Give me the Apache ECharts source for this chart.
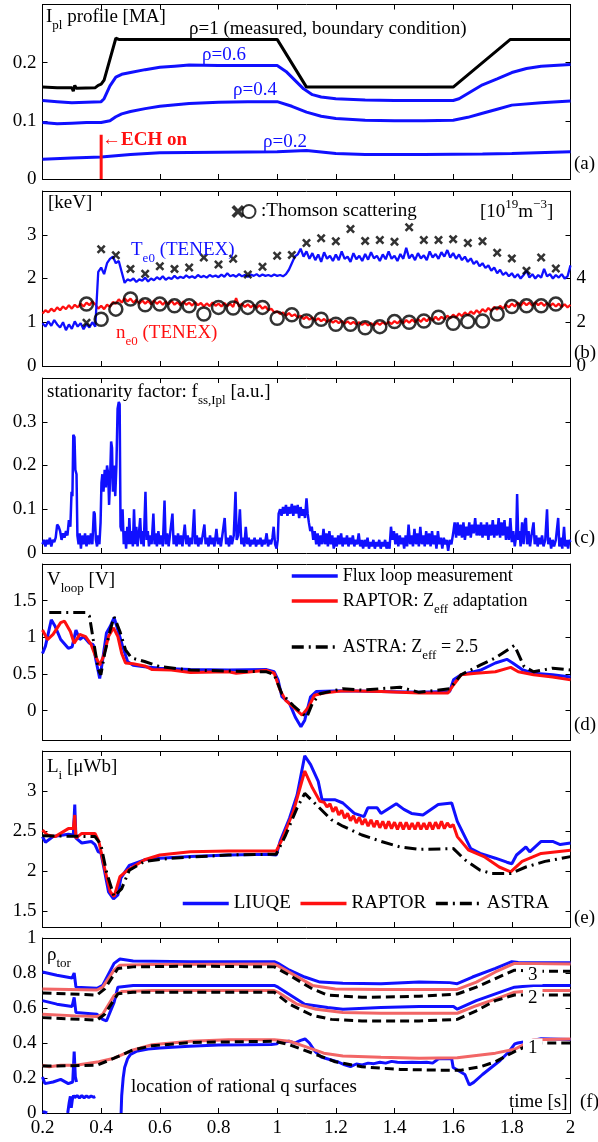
<!DOCTYPE html>
<html><head><meta charset="utf-8">
<script src="https://cdn.jsdelivr.net/npm/echarts/dist/echarts.min.js"></script>
<style>html,body{margin:0;padding:0;background:#fff}#c{width:598px;height:1142px}</style>
</head><body><div id="c"></div>
<script>
// ---------- DATA ----------
const xTicks = [0.2,0.4,0.6,0.8,1,1.2,1.4,1.6,1.8,2];
// (a) plasma current profile [MA]
const iplRho1 = [[0.2,0.158],[0.25,0.157],[0.3,0.157],[0.305,0.151],[0.31,0.161],[0.315,0.156],[0.38,0.157],[0.39,0.161],[0.4,0.163],[0.405,0.16],[0.41,0.17],[0.45,0.242],[0.46,0.24],[1.0,0.24],[1.1,0.158],[1.6,0.158],[1.795,0.24],[2.0,0.24]];
const iplRho06 = [[0.2,0.135],[0.25,0.133],[0.3,0.131],[0.35,0.132],[0.4,0.133],[0.41,0.138],[0.43,0.16],[0.45,0.175],[0.47,0.18],[0.5,0.183],[0.55,0.188],[0.6,0.192],[0.65,0.194],[0.7,0.196],[0.8,0.195],[0.9,0.195],[1.0,0.195],[1.03,0.185],[1.06,0.17],[1.09,0.155],[1.12,0.145],[1.15,0.141],[1.2,0.138],[1.3,0.136],[1.4,0.135],[1.5,0.135],[1.6,0.135],[1.62,0.138],[1.66,0.15],[1.7,0.162],[1.75,0.172],[1.8,0.183],[1.85,0.19],[1.9,0.194],[2.0,0.197]];
const iplRho04 = [[0.2,0.097],[0.25,0.095],[0.3,0.096],[0.35,0.097],[0.4,0.097],[0.43,0.1],[0.45,0.107],[0.47,0.112],[0.5,0.116],[0.55,0.121],[0.6,0.125],[0.7,0.13],[0.8,0.132],[0.9,0.133],[1.0,0.133],[1.05,0.125],[1.1,0.115],[1.15,0.108],[1.2,0.104],[1.3,0.101],[1.4,0.1],[1.5,0.1],[1.6,0.101],[1.65,0.106],[1.7,0.113],[1.75,0.12],[1.8,0.127],[1.9,0.131],[2.0,0.134]];
const iplRho02 = [[0.2,0.034],[0.3,0.036],[0.4,0.038],[0.5,0.042],[0.6,0.045],[0.8,0.046],[1.0,0.047],[1.1,0.049],[1.2,0.044],[1.3,0.042],[1.5,0.042],[1.7,0.043],[1.8,0.044],[2.0,0.047]];
const echOn = [[0.4,0],[0.4,0.076]];
// (b) central temperature [keV] and density [1e19 m^-3], sampled every 10 ms from 0.2 s
const te0 = [0.98,0.90,1.02,0.92,1.05,0.95,0.88,1.00,0.82,0.95,
0.85,1.02,0.90,0.98,0.84,0.96,0.88,1.00,0.90,2.15,
2.25,2.10,2.35,2.45,2.50,2.35,2.40,2.15,1.90,1.98,
1.95,2.00,1.92,1.98,1.95,2.02,1.93,2.00,1.96,2.03,
1.98,2.05,1.97,2.02,1.99,2.06,2.00,2.04,2.01,2.07,
2.02,2.05,2.01,2.08,2.03,2.06,2.02,2.08,2.04,2.07,
2.03,2.09,2.04,2.12,2.05,2.08,2.04,2.10,2.05,2.08,
2.04,2.09,2.06,2.10,2.05,2.09,2.06,2.08,2.05,2.09,
2.06,2.08,2.05,2.10,2.20,2.35,2.50,2.55,2.68,2.50,
2.62,2.45,2.58,2.42,2.55,2.38,2.60,2.45,2.52,2.40,
2.55,2.42,2.62,2.45,2.50,2.38,2.58,2.44,2.52,2.40,
2.56,2.43,2.60,2.46,2.52,2.40,2.55,2.44,2.62,2.45,
2.52,2.40,2.56,2.45,2.70,2.46,2.55,2.42,2.58,2.46,
2.53,2.42,2.62,2.48,2.56,2.45,2.60,2.50,2.65,2.48,
2.58,2.45,2.55,2.42,2.50,2.38,2.46,2.33,2.40,2.28,
2.35,2.24,2.30,2.18,2.25,2.12,2.20,2.08,2.14,2.05,
2.12,2.02,2.10,2.00,2.08,2.18,2.02,2.10,2.00,2.08,
2.02,2.22,2.05,2.10,2.00,2.08,2.02,2.10,2.00,2.05,2.30];
const ne0 = [2.40,2.55,2.45,2.62,2.50,2.68,2.55,2.72,2.60,2.78,
2.62,2.80,2.68,2.85,2.72,2.90,2.78,2.95,2.82,2.62,
2.75,2.60,2.80,2.70,2.92,2.85,3.05,2.90,3.10,2.95,
3.08,2.90,3.02,2.85,3.00,2.85,2.98,2.82,3.00,2.84,
2.96,2.80,2.95,2.82,2.98,2.80,2.92,2.78,2.95,2.80,
2.90,2.76,2.92,2.78,2.88,2.72,2.86,2.74,2.90,2.75,
2.85,2.72,2.88,2.74,2.84,2.70,3.10,2.72,2.85,2.70,
2.82,2.68,2.80,2.66,2.78,2.62,2.72,2.55,2.62,2.45,
2.50,2.38,2.45,2.30,2.42,2.28,2.36,2.22,2.30,2.15,
2.25,2.12,2.22,2.08,2.18,2.05,2.15,2.02,2.12,1.98,
2.08,1.96,2.06,1.94,2.04,1.92,2.02,1.90,2.00,1.88,
1.98,1.86,1.96,1.86,1.98,1.88,2.00,1.90,2.02,1.92,
2.05,1.95,2.08,1.96,2.10,1.98,2.12,2.00,2.15,2.02,
2.18,2.05,2.20,2.08,2.25,2.10,2.25,2.14,2.30,2.18,
2.35,2.22,2.40,2.28,2.45,2.32,2.50,2.38,2.55,2.42,
2.60,2.48,2.65,2.52,2.70,2.58,2.75,2.62,2.80,2.68,
2.85,2.72,2.90,2.75,2.92,2.78,2.90,2.76,2.92,2.78,
2.90,2.75,2.88,2.74,2.86,2.72,2.85,2.70,2.82,2.68,2.80];
const thomT = [0.35,0.4,0.45,0.5,0.55,0.6,0.65,0.7,0.75,0.8,0.85,0.9,0.95,1.0,1.05,1.1,1.15,1.2,1.25,1.3,1.35,1.4,1.45,1.5,1.55,1.6,1.65,1.7,1.75,1.8,1.85,1.9,1.95];
const thomTe = [0.99,2.67,2.53,2.22,2.11,2.28,2.22,2.25,2.48,2.32,2.45,2.09,2.27,2.52,2.54,2.81,2.92,2.85,3.13,2.86,2.88,2.84,3.17,2.88,2.88,2.9,2.81,2.85,2.59,2.46,2.18,2.48,2.23];
const thomNe = [2.83,2.14,2.6,3.06,2.8,2.83,2.75,2.75,2.38,2.68,2.65,2.68,2.68,2.18,2.34,2.06,2.14,1.91,1.91,1.75,1.8,2.03,2.0,2.06,2.23,1.95,2.03,2.06,2.38,2.72,2.75,2.75,2.83];
// (c) stationarity factor
const fss = [[0.200,0.02],[0.205,0.03],[0.210,0.015],[0.215,0.03],[0.220,0.02],[0.225,0.035],[0.230,0.015],[0.235,0.03],[0.240,0.025],[0.245,0.035],[0.250,0.065],[0.255,0.06],[0.260,0.05],[0.265,0.03],[0.270,0.045],[0.275,0.035],[0.280,0.05],[0.285,0.04],[0.290,0.075],[0.295,0.06],[0.299,0.14],[0.302,0.13],[0.305,0.27],[0.309,0.265],[0.312,0.19],[0.316,0.18],[0.319,0.04],[0.323,0.02],[0.327,0.045],[0.331,0.01],[0.335,0.04],[0.340,0.02],[0.345,0.045],[0.350,0.015],[0.355,0.04],[0.360,0.02],[0.365,0.045],[0.370,0.02],[0.375,0.095],[0.378,0.09],[0.382,0.03],[0.386,0.015],[0.390,0.04],[0.394,0.02],[0.398,0.07],[0.401,0.16],[0.404,0.18],[0.408,0.14],[0.412,0.19],[0.416,0.15],[0.420,0.2],[0.424,0.18],[0.427,0.11],[0.430,0.16],[0.434,0.255],[0.437,0.24],[0.440,0.14],[0.444,0.2],[0.448,0.13],[0.452,0.2],[0.456,0.33],[0.460,0.345],[0.463,0.34],[0.466,0.06],[0.470,0.05],[0.473,0.1],[0.477,0.02],[0.481,0.05],[0.485,0.01],[0.489,0.06],[0.493,0.02],[0.496,0.08],[0.500,0.02],[0.504,0.05],[0.508,0.015],[0.512,0.1],[0.516,0.02],[0.520,0.06],[0.524,0.015],[0.528,0.04],[0.533,0.08],[0.537,0.02],[0.541,0.05],[0.545,0.015],[0.551,0.14],[0.555,0.03],[0.559,0.05],[0.563,0.015],[0.567,0.04],[0.572,0.02],[0.578,0.09],[0.582,0.02],[0.586,0.045],[0.590,0.015],[0.595,0.05],[0.600,0.02],[0.605,0.04],[0.610,0.015],[0.616,0.12],[0.620,0.02],[0.625,0.045],[0.630,0.015],[0.636,0.05],[0.643,0.09],[0.647,0.02],[0.652,0.04],[0.657,0.015],[0.662,0.045],[0.667,0.02],[0.672,0.04],[0.677,0.015],[0.685,0.065],[0.690,0.02],[0.695,0.04],[0.700,0.015],[0.705,0.035],[0.710,0.02],[0.717,0.1],[0.721,0.02],[0.726,0.04],[0.731,0.015],[0.736,0.035],[0.741,0.02],[0.746,0.04],[0.752,0.065],[0.756,0.02],[0.761,0.035],[0.766,0.015],[0.771,0.04],[0.776,0.02],[0.781,0.035],[0.786,0.015],[0.793,0.055],[0.798,0.02],[0.803,0.035],[0.808,0.015],[0.813,0.04],[0.821,0.08],[0.826,0.02],[0.831,0.035],[0.836,0.015],[0.841,0.04],[0.846,0.02],[0.852,0.04],[0.858,0.14],[0.862,0.03],[0.867,0.04],[0.873,0.1],[0.878,0.02],[0.883,0.035],[0.888,0.015],[0.893,0.06],[0.898,0.02],[0.903,0.035],[0.908,0.015],[0.913,0.03],[0.918,0.02],[0.923,0.035],[0.928,0.015],[0.933,0.03],[0.938,0.02],[0.943,0.035],[0.948,0.015],[0.953,0.03],[0.958,0.02],[0.964,0.045],[0.969,0.015],[0.974,0.03],[0.979,0.02],[0.984,0.035],[0.988,0.06],[0.993,0.02],[0.998,0.01],[1.002,0.03],[1.005,0.09],[1.010,0.1],[1.015,0.085],[1.020,0.105],[1.025,0.09],[1.030,0.11],[1.035,0.085],[1.040,0.105],[1.045,0.09],[1.050,0.112],[1.055,0.085],[1.060,0.108],[1.065,0.09],[1.070,0.11],[1.075,0.08],[1.080,0.105],[1.085,0.085],[1.090,0.1],[1.095,0.08],[1.100,0.125],[1.104,0.09],[1.108,0.07],[1.113,0.05],[1.118,0.06],[1.123,0.03],[1.128,0.05],[1.133,0.02],[1.138,0.045],[1.143,0.015],[1.148,0.04],[1.153,0.02],[1.158,0.055],[1.163,0.02],[1.168,0.045],[1.173,0.015],[1.178,0.05],[1.183,0.02],[1.188,0.04],[1.193,0.01],[1.198,0.035],[1.203,0.015],[1.208,0.04],[1.213,0.02],[1.218,0.045],[1.223,0.015],[1.228,0.035],[1.233,0.02],[1.238,0.04],[1.243,0.015],[1.248,0.035],[1.253,0.02],[1.258,0.04],[1.263,0.015],[1.268,0.03],[1.273,0.02],[1.278,0.045],[1.283,0.015],[1.288,0.03],[1.293,0.01],[1.298,0.03],[1.303,0.015],[1.308,0.035],[1.313,0.01],[1.318,0.025],[1.323,0.015],[1.328,0.03],[1.333,0.01],[1.338,0.025],[1.343,0.015],[1.348,0.03],[1.353,0.01],[1.358,0.025],[1.363,0.015],[1.368,0.03],[1.373,0.01],[1.378,0.025],[1.383,0.01],[1.388,0.06],[1.393,0.03],[1.398,0.05],[1.403,0.02],[1.408,0.045],[1.413,0.015],[1.418,0.04],[1.423,0.02],[1.428,0.035],[1.433,0.01],[1.438,0.04],[1.443,0.015],[1.448,0.065],[1.453,0.02],[1.458,0.04],[1.463,0.015],[1.468,0.055],[1.473,0.02],[1.478,0.045],[1.483,0.015],[1.488,0.06],[1.493,0.02],[1.498,0.04],[1.503,0.015],[1.508,0.05],[1.513,0.02],[1.518,0.045],[1.523,0.015],[1.528,0.05],[1.533,0.02],[1.538,0.04],[1.543,0.01],[1.548,0.05],[1.553,0.02],[1.558,0.035],[1.563,0.01],[1.568,0.035],[1.573,0.02],[1.578,0.03],[1.583,0.005],[1.588,0.03],[1.594,0.02],[1.600,0.045],[1.605,0.07],[1.610,0.035],[1.615,0.07],[1.620,0.04],[1.625,0.065],[1.630,0.035],[1.635,0.07],[1.640,0.03],[1.645,0.06],[1.650,0.04],[1.655,0.07],[1.660,0.035],[1.665,0.065],[1.670,0.045],[1.675,0.08],[1.680,0.04],[1.685,0.065],[1.690,0.04],[1.695,0.07],[1.700,0.035],[1.705,0.065],[1.710,0.04],[1.715,0.07],[1.720,0.03],[1.725,0.065],[1.730,0.04],[1.735,0.075],[1.740,0.035],[1.745,0.065],[1.750,0.04],[1.755,0.08],[1.760,0.035],[1.765,0.07],[1.770,0.04],[1.775,0.075],[1.780,0.03],[1.785,0.06],[1.790,0.03],[1.795,0.08],[1.800,0.025],[1.805,0.05],[1.810,0.015],[1.815,0.04],[1.818,0.135],[1.822,0.03],[1.826,0.05],[1.830,0.015],[1.835,0.07],[1.840,0.02],[1.845,0.075],[1.848,0.08],[1.852,0.02],[1.857,0.05],[1.862,0.015],[1.867,0.04],[1.874,0.07],[1.878,0.02],[1.883,0.04],[1.888,0.015],[1.893,0.035],[1.898,0.02],[1.903,0.04],[1.908,0.015],[1.914,0.03],[1.920,0.1],[1.924,0.02],[1.929,0.035],[1.934,0.01],[1.939,0.03],[1.944,0.015],[1.950,0.03],[1.958,0.08],[1.962,0.015],[1.967,0.035],[1.972,0.01],[1.978,0.06],[1.982,0.015],[1.987,0.03],[1.992,0.01],[1.996,0.03],[2.000,0.025]];
// (d) loop voltage [V]
const vFlux = [[0.2,0.78],[0.21,0.88],[0.23,1.24],[0.243,1.15],[0.262,0.97],[0.288,0.85],[0.301,0.87],[0.314,1.1],[0.327,0.97],[0.34,1.01],[0.36,0.92],[0.373,0.9],[0.382,0.69],[0.395,0.44],[0.405,0.69],[0.418,1.06],[0.431,1.15],[0.444,1.27],[0.457,1.1],[0.473,0.88],[0.49,0.67],[0.509,0.62],[0.548,0.6],[0.6,0.58],[0.704,0.56],[0.834,0.555],[0.964,0.56],[0.99,0.53],[1.003,0.42],[1.016,0.19],[1.042,0.1],[1.062,-0.09],[1.081,-0.22],[1.094,-0.13],[1.114,0.19],[1.133,0.26],[1.224,0.27],[1.354,0.26],[1.484,0.25],[1.588,0.26],[1.601,0.42],[1.627,0.49],[1.692,0.55],[1.744,0.65],[1.783,0.7],[1.803,0.65],[1.835,0.56],[1.874,0.51],[1.939,0.49],[2.0,0.46]];
const vRaptor = [[0.2,1.1],[0.217,0.97],[0.236,1.04],[0.262,1.2],[0.275,1.22],[0.295,1.08],[0.308,0.92],[0.327,1.04],[0.347,1.01],[0.366,0.9],[0.379,0.76],[0.395,0.62],[0.408,0.74],[0.425,1.01],[0.442,1.13],[0.457,1.01],[0.47,0.78],[0.483,0.65],[0.509,0.64],[0.548,0.61],[0.574,0.56],[0.639,0.555],[0.704,0.52],[0.834,0.53],[0.86,0.51],[0.964,0.55],[0.99,0.51],[1.01,0.28],[1.029,0.14],[1.055,0.05],[1.085,-0.06],[1.107,0.05],[1.127,0.21],[1.159,0.24],[1.224,0.27],[1.354,0.26],[1.484,0.24],[1.582,0.24],[1.601,0.35],[1.627,0.49],[1.679,0.51],[1.744,0.53],[1.796,0.59],[1.822,0.53],[1.874,0.49],[1.939,0.46],[2.0,0.42]];
const vAstra = [[0.223,1.34],[0.347,1.34],[0.36,1.29],[0.373,0.97],[0.39,0.56],[0.399,0.49],[0.412,0.78],[0.431,1.1],[0.444,1.28],[0.464,1.08],[0.483,0.83],[0.503,0.72],[0.548,0.67],[0.6,0.6],[0.704,0.555],[0.834,0.54],[0.964,0.53],[0.99,0.49],[1.016,0.23],[1.055,0.07],[1.101,-0.09],[1.12,0.1],[1.146,0.23],[1.224,0.3],[1.289,0.28],[1.354,0.3],[1.419,0.32],[1.484,0.25],[1.588,0.3],[1.627,0.49],[1.692,0.62],[1.744,0.72],[1.809,0.89],[1.842,0.6],[1.874,0.53],[1.939,0.58],[2.0,0.555]];
// (e) internal inductance
const liLiuqe = [[0.2,2.43],[0.21,2.36],[0.236,2.43],[0.288,2.46],[0.305,2.45],[0.31,2.83],[0.314,2.41],[0.334,2.35],[0.366,2.37],[0.379,2.33],[0.39,2.24],[0.399,2.23],[0.412,1.99],[0.425,1.74],[0.442,1.65],[0.457,1.7],[0.467,1.91],[0.496,2.07],[0.548,2.14],[0.6,2.16],[0.704,2.18],[0.834,2.2],[0.964,2.21],[0.997,2.2],[1.01,2.37],[1.042,2.66],[1.068,2.95],[1.094,3.44],[1.114,3.33],[1.14,3.12],[1.153,2.89],[1.198,2.89],[1.224,2.85],[1.263,2.72],[1.296,2.68],[1.309,2.79],[1.341,2.79],[1.354,2.72],[1.406,2.84],[1.432,2.77],[1.458,2.72],[1.497,2.7],[1.549,2.83],[1.595,2.85],[1.614,2.62],[1.66,2.28],[1.692,2.22],[1.744,2.16],[1.783,2.11],[1.8,2.09],[1.816,2.2],[1.848,2.3],[1.861,2.24],[1.9,2.37],[1.939,2.37],[1.965,2.33],[2.0,2.35]];
const liRaptor = [[0.2,2.51],[0.217,2.45],[0.243,2.43],[0.288,2.53],[0.305,2.53],[0.31,2.7],[0.314,2.41],[0.334,2.47],[0.379,2.47],[0.392,2.37],[0.412,2.03],[0.431,1.74],[0.444,1.68],[0.464,1.93],[0.49,2.01],[0.548,2.14],[0.6,2.2],[0.704,2.24],[0.834,2.25],[0.997,2.25],[1.016,2.39],[1.055,2.74],[1.094,3.25],[1.12,3.04],[1.146,2.87],[1.16,2.86],[1.17,2.80],[1.18,2.84],[1.19,2.74],[1.2,2.8],[1.21,2.7],[1.22,2.76],[1.23,2.66],[1.24,2.72],[1.25,2.63],[1.26,2.69],[1.27,2.6],[1.28,2.67],[1.29,2.58],[1.3,2.65],[1.31,2.56],[1.32,2.64],[1.33,2.55],[1.34,2.63],[1.35,2.54],[1.36,2.62],[1.37,2.53],[1.38,2.62],[1.39,2.53],[1.4,2.61],[1.41,2.52],[1.42,2.61],[1.43,2.52],[1.44,2.61],[1.45,2.52],[1.46,2.6],[1.47,2.52],[1.48,2.61],[1.49,2.52],[1.5,2.6],[1.51,2.52],[1.52,2.61],[1.53,2.52],[1.54,2.61],[1.55,2.53],[1.56,2.62],[1.57,2.53],[1.58,2.6],[1.59,2.55],[1.6,2.58],[1.614,2.43],[1.653,2.26],[1.705,2.18],[1.757,2.05],[1.796,1.99],[1.835,2.12],[1.9,2.22],[2.0,2.26]];
const liAstra = [[0.2,2.44],[0.379,2.43],[0.399,2.33],[0.418,1.99],[0.444,1.68],[0.47,1.78],[0.496,2.01],[0.548,2.12],[0.639,2.16],[0.834,2.2],[0.997,2.21],[1.029,2.45],[1.068,2.79],[1.094,2.97],[1.133,2.83],[1.185,2.64],[1.224,2.56],[1.289,2.45],[1.354,2.37],[1.419,2.3],[1.484,2.27],[1.601,2.28],[1.64,2.14],[1.692,2.01],[1.731,1.97],[1.796,1.97],[1.848,2.05],[1.913,2.12],[2.0,2.18]];
// (f) rational q surface locations (rho_tor)
const q3Liuqe = [[0.2,0.806],[0.249,0.787],[0.301,0.771],[0.308,0.8],[0.314,0.719],[0.386,0.713],[0.405,0.729],[0.444,0.855],[0.464,0.88],[0.509,0.868],[0.704,0.865],[0.99,0.865],[1.003,0.855],[1.042,0.816],[1.094,0.777],[1.146,0.748],[1.224,0.742],[1.354,0.739],[1.484,0.748],[1.588,0.745],[1.614,0.739],[1.666,0.777],[1.744,0.826],[1.8,0.865],[1.822,0.86],[1.874,0.859],[2.0,0.859]];
const q3Raptor = [[0.2,0.709],[0.386,0.703],[0.405,0.719],[0.444,0.816],[0.464,0.845],[0.574,0.849],[0.99,0.851],[1.003,0.841],[1.12,0.729],[1.198,0.709],[1.354,0.706],[1.614,0.706],[1.679,0.748],[1.744,0.806],[1.809,0.855],[2.0,0.851]];
const q3Astra = [[0.2,0.686],[0.386,0.674],[0.412,0.709],[0.457,0.826],[0.509,0.835],[0.704,0.839],[0.99,0.835],[1.042,0.787],[1.12,0.709],[1.172,0.674],[1.289,0.661],[1.484,0.667],[1.614,0.68],[1.679,0.719],[1.744,0.768],[1.809,0.816],[1.874,0.81],[2.0,0.81]];
const q2Liuqe = [[0.2,0.642],[0.249,0.622],[0.301,0.609],[0.308,0.661],[0.314,0.574],[0.386,0.564],[0.405,0.535],[0.418,0.526],[0.444,0.632],[0.457,0.719],[0.509,0.729],[0.99,0.729],[1.003,0.719],[1.094,0.622],[1.172,0.603],[1.224,0.593],[1.354,0.603],[1.484,0.609],[1.601,0.609],[1.614,0.593],[1.679,0.642],[1.744,0.681],[1.809,0.719],[1.874,0.729],[2.0,0.729]];
const q2Raptor = [[0.2,0.564],[0.314,0.555],[0.386,0.551],[0.405,0.564],[0.444,0.671],[0.47,0.694],[0.574,0.7],[0.99,0.7],[1.003,0.69],[1.068,0.622],[1.133,0.593],[1.224,0.574],[1.354,0.57],[1.614,0.57],[1.679,0.613],[1.744,0.651],[1.809,0.69],[1.874,0.7],[2.0,0.7]];
const q2Astra = [[0.2,0.545],[0.386,0.531],[0.412,0.564],[0.457,0.681],[0.509,0.69],[0.704,0.69],[0.99,0.69],[1.042,0.622],[1.12,0.558],[1.185,0.535],[1.289,0.526],[1.484,0.526],[1.614,0.535],[1.679,0.584],[1.744,0.642],[1.809,0.674],[1.874,0.674],[2.0,0.674]];
const q1LiuqeA = [[0.2,0.206],[0.208,0.168],[0.236,0.177],[0.262,0.192],[0.288,0.168],[0.303,0.177],[0.308,0.351],[0.312,0.206],[0.316,0.177]];
const q1LiuqeB = [[0.2,0.008],[0.21,0.004],[0.216,0.0]];
const q1LiuqeC = [[0.286,0.0],[0.291,0.06],[0.295,0.095],[0.298,0.03],[0.302,0.08],[0.306,0.1],[0.31,0.088],[0.318,0.1],[0.326,0.086],[0.334,0.099],[0.342,0.087],[0.35,0.098],[0.358,0.088],[0.366,0.097],[0.374,0.09],[0.38,0.094]];
const q1LiuqeD = [[0.468,0.0],[0.47,0.1],[0.475,0.2],[0.48,0.26],[0.49,0.31],[0.5,0.335],[0.52,0.352],[0.56,0.365],[0.6,0.372],[0.7,0.382],[0.8,0.388],[0.9,0.39],[0.98,0.392],[1.0,0.395],[1.005,0.41],[1.02,0.405],[1.04,0.41],[1.06,0.4],[1.08,0.415],[1.095,0.423],[1.11,0.4],[1.13,0.35],[1.15,0.32],[1.17,0.31],[1.19,0.3],[1.21,0.29],[1.23,0.275],[1.25,0.265],[1.27,0.28],[1.29,0.275],[1.31,0.285],[1.33,0.282],[1.35,0.29],[1.37,0.285],[1.39,0.295],[1.41,0.29],[1.43,0.288],[1.46,0.29],[1.49,0.288],[1.51,0.29],[1.53,0.285],[1.55,0.31],[1.58,0.31],[1.595,0.31],[1.6,0.26],[1.62,0.24],[1.64,0.22],[1.655,0.16],[1.67,0.175],[1.7,0.22],[1.73,0.26],[1.76,0.3],[1.79,0.35],[1.81,0.395],[1.82,0.4],[1.87,0.415],[1.9,0.425],[2.0,0.42]];
const q1Raptor = [[0.2,0.273],[0.223,0.264],[0.262,0.273],[0.314,0.273],[0.392,0.293],[0.444,0.313],[0.47,0.332],[0.509,0.361],[0.574,0.39],[0.704,0.41],[0.834,0.419],[0.99,0.419],[1.042,0.41],[1.094,0.381],[1.159,0.342],[1.224,0.326],[1.354,0.318],[1.484,0.313],[1.614,0.316],[1.744,0.342],[1.809,0.364],[1.874,0.419],[2.0,0.423]];
const q1Astra = [[0.2,0.268],[0.386,0.273],[0.444,0.313],[0.509,0.361],[0.574,0.384],[0.704,0.403],[0.99,0.41],[1.042,0.39],[1.12,0.342],[1.198,0.293],[1.289,0.264],[1.419,0.249],[1.549,0.245],[1.627,0.245],[1.692,0.264],[1.744,0.293],[1.809,0.351],[1.874,0.4],[2.0,0.4]];

// ---------- CHART ----------
const FF = 'Liberation Serif';
const BLUE = '#1010ff', RED = '#ff1010', PINK = '#f26666';
const tb = te0.map((_, i) => Math.round((0.2 + i * 0.01) * 100) / 100);
const grids = [
  {top: 4.5, height: 174.5}, {top: 191, height: 175}, {top: 378, height: 175},
  {top: 564, height: 176}, {top: 751, height: 176}, {top: 938, height: 175}
].map(g => Object.assign({left: 42.5, width: 528}, g));

function fmt(v) { const r = Math.round(v * 100) / 100; return String(Math.abs(r) < 1e-9 ? 0 : r); }
function xAx(gi, pos, labels) {
  return {type: 'value', gridIndex: gi, position: pos, min: 0.2, max: 2, interval: 0.2,
    axisLine: {show: true, onZero: false, lineStyle: {color: '#000', width: 1}},
    axisTick: {show: true, inside: true, length: 5, lineStyle: {color: '#000'}},
    axisLabel: {show: labels, color: '#000', fontFamily: FF, fontSize: 19, margin: 6,
      formatter: v => xTicks.some(t => Math.abs(t - v) < 1e-6) ? fmt(v) : ''},
    splitLine: {show: false}};
}
function yAx(gi, pos, cfg, labelFn) {
  const a = {type: 'value', gridIndex: gi, position: pos, min: cfg.min, max: cfg.max,
    axisLine: {show: true, onZero: false, lineStyle: {color: '#000', width: 1}},
    axisTick: {show: true, inside: true, length: 5, lineStyle: {color: '#000'}},
    axisLabel: {show: !!labelFn, color: '#000', fontFamily: FF, fontSize: 19, margin: 6,
      formatter: v => labelFn && labelFn(v) ? fmt(v) : ''},
    splitLine: {show: false}};
  if (cfg.interval) a.interval = cfg.interval;
  return a;
}
const near = (v, step) => Math.abs(v / step - Math.round(v / step)) < 1e-6;
const yCfg = [
  {min: 0, max: 0.3, interval: 0.1, lab: v => v < 0.25},
  {min: 0, max: 4, interval: 1, lab: v => v < 3.5},
  {min: 0, max: 0.4, interval: 0.1, lab: v => v < 0.35},
  {min: -0.4, max: 2, lab: v => near(v, 0.5) && v > -0.3 && v < 1.9},
  {min: 1.3, max: 3.5, lab: v => near(v, 0.5) && v > 1.4 && v < 3.4},
  {min: 0, max: 1, interval: 0.2, lab: v => true}
];
const xAxes = [], yAxes = [];
for (let i = 0; i < 6; i++) {
  xAxes.push(xAx(i, 'bottom', i === 5), xAx(i, 'top', false));
  yAxes.push(yAx(i, 'left', yCfg[i], yCfg[i].lab));
  if (i === 1) yAxes.push(yAx(i, 'right', {min: 0, max: 8, interval: 2}, v => v < 5));
  else yAxes.push(yAx(i, 'right', yCfg[i], null));
}
function L(name, gi, yi, data, color, width, type, z) {
  return {name, type: 'line', xAxisIndex: 2 * gi, yAxisIndex: yi, data, symbol: 'none', showSymbol: false,
    lineStyle: {color, width, type: type || 'solid'}, itemStyle: {color}, z: z || 2, animation: false};
}
const DD = [12, 5, 2, 5];
const XSYM = 'path://M0,2L2,0L5,3L8,0L10,2L7,5L10,8L8,10L5,7L2,10L0,8L3,5Z';
const series = [
  L('rho1', 0, 0, iplRho1, '#000', 3),
  L('rho06', 0, 0, iplRho06, BLUE, 3),
  L('rho04', 0, 0, iplRho04, BLUE, 3),
  L('rho02', 0, 0, iplRho02, BLUE, 3),
  L('ECH', 0, 0, echOn, RED, 3),
  L('ne0', 1, 3, tb.map((t, i) => [t, ne0[i]]), RED, 2.3),
  L('Te0', 1, 2, tb.map((t, i) => [t, te0[i]]), BLUE, 2.3),
  {name: 'TeTS', type: 'scatter', xAxisIndex: 2, yAxisIndex: 2, data: thomT.map((t, i) => [t, thomTe[i]]),
    symbol: XSYM, symbolSize: 9, itemStyle: {color: '#000'}, z: 5, animation: false},
  {name: 'neTS', type: 'scatter', xAxisIndex: 2, yAxisIndex: 3, data: thomT.map((t, i) => [t, thomNe[i]]),
    symbol: 'circle', symbolSize: 13, itemStyle: {color: 'rgba(0,0,0,0)', borderColor: '#000', borderWidth: 2.5}, z: 5, animation: false},
  L('fss', 2, 4, fss, BLUE, 2.5),
  L('Flux loop measurement', 3, 6, vFlux, BLUE, 3),
  L('RAPTOR: Zeff adaptation', 3, 6, vRaptor, RED, 3),
  L('ASTRA: Zeff = 2.5', 3, 6, vAstra, '#000', 3, DD),
  L('LIUQE', 4, 8, liLiuqe, BLUE, 3),
  L('RAPTOR', 4, 8, liRaptor, RED, 3),
  L('ASTRA', 4, 8, liAstra, '#000', 3, DD),
  L('q3L', 5, 10, q3Liuqe, BLUE, 3), L('q2L', 5, 10, q2Liuqe, BLUE, 3),
  L('q1LA', 5, 10, q1LiuqeA, BLUE, 3), L('q1LB', 5, 10, q1LiuqeB, BLUE, 3),
  L('q1LC', 5, 10, q1LiuqeC, BLUE, 3), L('q1LD', 5, 10, q1LiuqeD, BLUE, 3),
  L('q3R', 5, 10, q3Raptor, PINK, 3), L('q2R', 5, 10, q2Raptor, PINK, 3), L('q1R', 5, 10, q1Raptor, PINK, 3),
  L('q3A', 5, 10, q3Astra, '#000', 3, [9, 5]), L('q2A', 5, 10, q2Astra, '#000', 3, [9, 5]), L('q1A', 5, 10, q1Astra, '#000', 3, [9, 5])
];

function rich(color) {
  return {
    n: {fontFamily: FF, fontSize: 19, fill: color, color},
    b: {fontFamily: FF, fontSize: 19, fontWeight: 'bold', fill: color, color},
    s: {fontFamily: FF, fontSize: 13, fill: color, color, padding: [18, 0, 0, 0]},
    p: {fontFamily: FF, fontSize: 13, fill: color, color, padding: [0, 0, 14, 0]}
  };
}
function T(x, y, text, color, extra) {
  return Object.assign({type: 'text', x, y, z: 100, silent: true,
    style: Object.assign({text, fill: color || '#000', fontFamily: FF, fontSize: 19,
      rich: rich(color || '#000'), align: 'left', verticalAlign: 'middle'}, extra || {})});
}
const graphics = [
  T(46, 17, '{n|I}{s|pl}{n| profile [MA]}'),
  T(189, 29, '{n|ρ=1 (measured, boundary condition)}'),
  T(202, 55, '{n|ρ=0.6}', BLUE), T(233, 90, '{n|ρ=0.4}', BLUE), T(263, 142, '{n|ρ=0.2}', BLUE),
  T(102, 140, '{b|←ECH on}', RED),
  T(48, 203, '{n|[keV]}'),
  T(480, 212, '{n|[10}{p|19}{n|m}{p|−3}{n|]}'),
  T(131, 250, '{n|T}{s|e0}{n| (TENEX)}', BLUE),
  T(116, 333, '{n|n}{s|e0}{n| (TENEX)}', RED),
  T(47, 392, '{n|stationarity factor: f}{s|ss,Ipl}{n| [a.u.]}'),
  T(47, 580, '{n|V}{s|loop}{n| [V]}'),
  T(47, 767, '{n|L}{s|i}{n| [μWb]}'),
  T(47, 955, '{n|ρ}{s|tor}'),
  T(131, 1087, '{n|location of rational q surfaces}'),
  T(509, 1102, '{n|time [s]}'),
  T(523, 975, '{n|3}', '#000', {backgroundColor: '#fff', padding: [0, 5, 0, 5]}),
  T(523, 998, '{n|2}', '#000', {backgroundColor: '#fff', padding: [0, 5, 0, 5]}),
  T(523, 1048, '{n|1}', '#000', {backgroundColor: '#fff', padding: [0, 5, 0, 5]}),
  T(574, 164, '{n|(a)}'), T(574, 353, '{n|(b)}'), T(574, 538, '{n|(c)}'),
  T(574, 725, '{n|(d)}'), T(574, 918, '{n|(e)}'), T(580, 1102, '{n|(f)}')
];
const legRich = {n: {fontFamily: FF, fontSize: 18, color: '#000'}, s: {fontFamily: FF, fontSize: 13, color: '#000', padding: [18, 0, 0, 0]}};
function legD(name, top, label) {
  return {data: [name], left: 290, top, orient: 'vertical', itemWidth: 46, itemHeight: 14, padding: 0,
    selectedMode: false, itemStyle: {opacity: 0}, lineStyle: {width: 3.5}, formatter: () => label,
    textStyle: {fontFamily: FF, fontSize: 18, color: '#000', rich: legRich}};
}
const option = {
  animation: false,
  backgroundColor: '#fff',
  grid: grids, xAxis: xAxes, yAxis: yAxes, series,
  legend: [
    legD('Flux loop measurement', 567, '{n|Flux loop measurement}'),
    legD('RAPTOR: Zeff adaptation', 592, '{n|RAPTOR: Z}{s|eff}{n| adaptation}'),
    legD('ASTRA: Zeff = 2.5', 638, '{n|ASTRA: Z}{s|eff}{n| = 2.5}'),
    {data: ['LIUQE', 'RAPTOR', 'ASTRA'], left: 181, top: 894, orient: 'horizontal', itemWidth: 46, itemHeight: 14,
      itemGap: 8, padding: 0, selectedMode: false, itemStyle: {opacity: 0}, lineStyle: {width: 3.5},
      textStyle: {fontFamily: FF, fontSize: 19, color: '#000'}},
    {data: ['TeTS', 'neTS'], left: 231, top: 202, orient: 'horizontal', itemWidth: 14, itemHeight: 13, itemGap: -3,
      padding: 0, selectedMode: false, formatter: n => n === 'neTS' ? ':Thomson scattering' : '',
      textStyle: {fontFamily: FF, fontSize: 19, color: '#000'}}
  ],
  graphic: graphics
};
const chart = echarts.init(document.getElementById('c'), null, {renderer: 'canvas'});
chart.setOption(option);
</script></body></html>
